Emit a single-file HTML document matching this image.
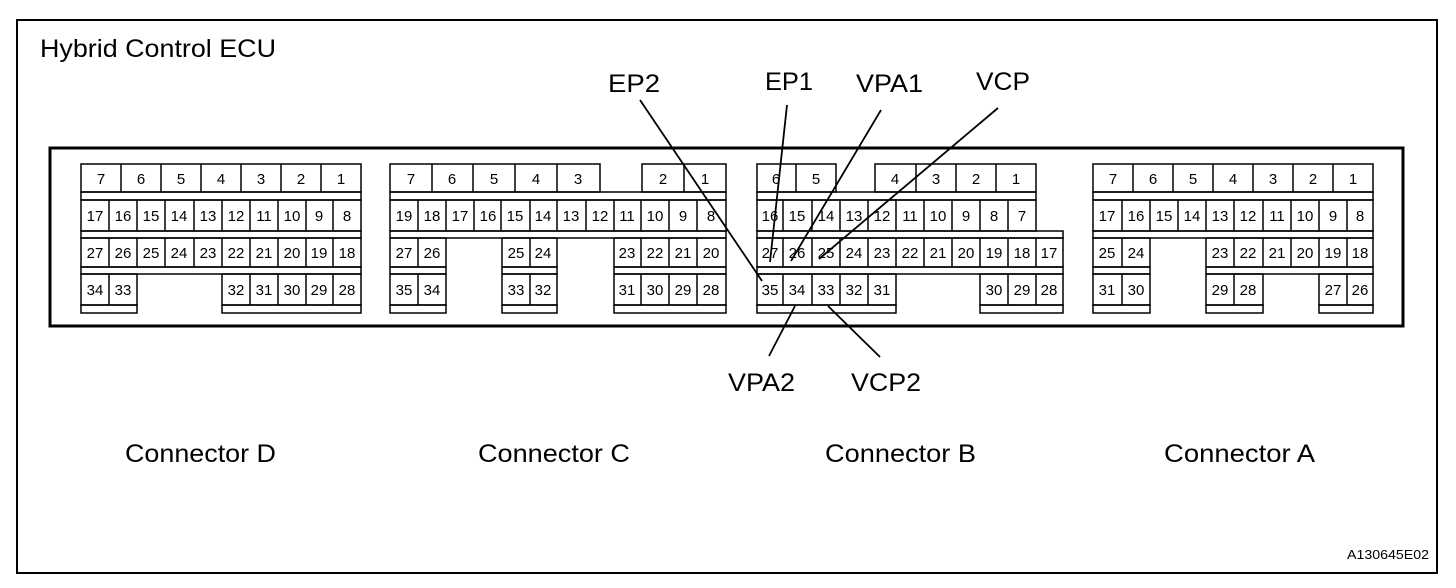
<!DOCTYPE html>
<html><head><meta charset="utf-8"><style>
html,body{margin:0;padding:0;background:#fff;}
svg{display:block;}
text{font-family:"Liberation Sans",Arial,sans-serif;fill:#000;}
.c{font-size:15px;text-anchor:middle;}
.L{font-size:25px;}
</style></head><body>
<svg width="1456" height="588" viewBox="0 0 1456 588" xmlns="http://www.w3.org/2000/svg">
<rect x="17" y="20" width="1420" height="553" fill="none" stroke="#000" stroke-width="2"/>
<text x="40" y="57" class="L" textLength="236" lengthAdjust="spacingAndGlyphs">Hybrid Control ECU</text>
<rect x="50" y="148" width="1353" height="178" fill="none" stroke="#000" stroke-width="3"/>
<g fill="none" stroke="#000" stroke-width="1.5">
<!-- D -->
<rect x="81" y="164" width="280" height="28"/>
<path d="M121 164V192M161 164V192M201 164V192M241 164V192M281 164V192M321 164V192"/>
<rect x="81" y="192" width="280" height="8"/>
<rect x="81" y="200" width="280" height="31"/>
<path d="M109 200V231M137 200V231M165 200V231M194 200V231M222 200V231M250 200V231M278 200V231M306 200V231M333 200V231"/>
<rect x="81" y="231" width="280" height="7"/>
<rect x="81" y="238" width="280" height="29"/>
<path d="M109 238V267M137 238V267M165 238V267M194 238V267M222 238V267M250 238V267M278 238V267M306 238V267M333 238V267"/>
<rect x="81" y="267" width="280" height="7"/>
<rect x="81" y="274" width="56" height="31"/><path d="M109 274V305"/>
<rect x="222" y="274" width="139" height="31"/><path d="M250 274V305M278 274V305M306 274V305M333 274V305"/>
<rect x="81" y="305" width="56" height="8"/><rect x="222" y="305" width="139" height="8"/>
<!-- C -->
<rect x="390" y="164" width="210" height="28"/>
<path d="M432 164V192M473 164V192M515 164V192M557 164V192"/>
<rect x="642" y="164" width="84" height="28"/><path d="M684 164V192"/>
<rect x="390" y="192" width="336" height="8"/>
<rect x="390" y="200" width="336" height="31"/>
<path d="M418 200V231M446 200V231M474 200V231M501 200V231M530 200V231M557 200V231M586 200V231M614 200V231M641 200V231M669 200V231M697 200V231"/>
<rect x="390" y="231" width="336" height="7"/>
<rect x="390" y="238" width="56" height="29"/><path d="M418 238V267"/>
<rect x="502" y="238" width="55" height="29"/><path d="M530 238V267"/>
<rect x="614" y="238" width="112" height="29"/><path d="M641 238V267M669 238V267M697 238V267"/>
<rect x="390" y="267" width="56" height="7"/><rect x="502" y="267" width="55" height="7"/><rect x="614" y="267" width="112" height="7"/>
<rect x="390" y="274" width="56" height="31"/><path d="M418 274V305"/>
<rect x="502" y="274" width="55" height="31"/><path d="M530 274V305"/>
<rect x="614" y="274" width="112" height="31"/><path d="M641 274V305M669 274V305M697 274V305"/>
<rect x="390" y="305" width="56" height="8"/><rect x="502" y="305" width="55" height="8"/><rect x="614" y="305" width="112" height="8"/>
<!-- B -->
<rect x="757" y="164" width="79" height="28"/><path d="M796 164V192"/>
<rect x="875" y="164" width="161" height="28"/><path d="M916 164V192M956 164V192M996 164V192"/>
<rect x="757" y="192" width="279" height="8"/>
<rect x="757" y="200" width="279" height="31"/>
<path d="M783 200V231M812 200V231M840 200V231M868 200V231M896 200V231M924 200V231M952 200V231M980 200V231M1008 200V231"/>
<rect x="757" y="231" width="306" height="7"/>
<rect x="757" y="238" width="306" height="29"/>
<path d="M783 238V267M812 238V267M840 238V267M868 238V267M896 238V267M924 238V267M952 238V267M980 238V267M1008 238V267M1036 238V267"/>
<rect x="757" y="267" width="306" height="7"/>
<rect x="757" y="274" width="139" height="31"/><path d="M783 274V305M812 274V305M840 274V305M868 274V305"/>
<rect x="980" y="274" width="83" height="31"/><path d="M1008 274V305M1036 274V305"/>
<rect x="757" y="305" width="139" height="8"/><rect x="980" y="305" width="83" height="8"/>
<!-- A -->
<rect x="1093" y="164" width="280" height="28"/>
<path d="M1133 164V192M1173 164V192M1213 164V192M1253 164V192M1293 164V192M1333 164V192"/>
<rect x="1093" y="192" width="280" height="8"/>
<rect x="1093" y="200" width="280" height="31"/>
<path d="M1122 200V231M1150 200V231M1178 200V231M1206 200V231M1234 200V231M1263 200V231M1291 200V231M1319 200V231M1347 200V231"/>
<rect x="1093" y="231" width="280" height="7"/>
<rect x="1093" y="238" width="57" height="29"/><path d="M1122 238V267"/>
<rect x="1206" y="238" width="167" height="29"/><path d="M1234 238V267M1263 238V267M1291 238V267M1319 238V267M1347 238V267"/>
<rect x="1093" y="267" width="57" height="7"/><rect x="1206" y="267" width="167" height="7"/>
<rect x="1093" y="274" width="57" height="31"/><path d="M1122 274V305"/>
<rect x="1206" y="274" width="57" height="31"/><path d="M1234 274V305"/>
<rect x="1319" y="274" width="54" height="31"/><path d="M1347 274V305"/>
<rect x="1093" y="305" width="57" height="8"/><rect x="1206" y="305" width="57" height="8"/><rect x="1319" y="305" width="54" height="8"/>
<!-- leaders -->
<path d="M640 100L762 281M787 105L770 262M881 110L791 261M998 108L819 259M795 306L769 356M828 306L880 357" stroke-width="1.8"/>
</g>
<g class="c">
<!-- D -->
<text x="101" y="184">7</text><text x="141" y="184">6</text><text x="181" y="184">5</text><text x="221" y="184">4</text><text x="261" y="184">3</text><text x="301" y="184">2</text><text x="341" y="184">1</text>
<text x="95" y="221">17</text><text x="123" y="221">16</text><text x="151" y="221">15</text><text x="179" y="221">14</text><text x="208" y="221">13</text><text x="236" y="221">12</text><text x="264" y="221">11</text><text x="292" y="221">10</text><text x="319" y="221">9</text><text x="347" y="221">8</text>
<text x="95" y="258">27</text><text x="123" y="258">26</text><text x="151" y="258">25</text><text x="179" y="258">24</text><text x="208" y="258">23</text><text x="236" y="258">22</text><text x="264" y="258">21</text><text x="292" y="258">20</text><text x="319" y="258">19</text><text x="347" y="258">18</text>
<text x="95" y="295">34</text><text x="123" y="295">33</text><text x="236" y="295">32</text><text x="264" y="295">31</text><text x="292" y="295">30</text><text x="319" y="295">29</text><text x="347" y="295">28</text>
<!-- C -->
<text x="411" y="184">7</text><text x="452" y="184">6</text><text x="494" y="184">5</text><text x="536" y="184">4</text><text x="578" y="184">3</text><text x="663" y="184">2</text><text x="705" y="184">1</text>
<text x="404" y="221">19</text><text x="432" y="221">18</text><text x="460" y="221">17</text><text x="488" y="221">16</text><text x="515" y="221">15</text><text x="543" y="221">14</text><text x="571" y="221">13</text><text x="600" y="221">12</text><text x="627" y="221">11</text><text x="655" y="221">10</text><text x="683" y="221">9</text><text x="711" y="221">8</text>
<text x="404" y="258">27</text><text x="432" y="258">26</text><text x="516" y="258">25</text><text x="543" y="258">24</text><text x="627" y="258">23</text><text x="655" y="258">22</text><text x="683" y="258">21</text><text x="711" y="258">20</text>
<text x="404" y="295">35</text><text x="432" y="295">34</text><text x="516" y="295">33</text><text x="543" y="295">32</text><text x="627" y="295">31</text><text x="655" y="295">30</text><text x="683" y="295">29</text><text x="711" y="295">28</text>
<!-- B -->
<text x="776" y="184">6</text><text x="816" y="184">5</text><text x="895" y="184">4</text><text x="936" y="184">3</text><text x="976" y="184">2</text><text x="1016" y="184">1</text>
<text x="770" y="221">16</text><text x="797" y="221">15</text><text x="826" y="221">14</text><text x="854" y="221">13</text><text x="882" y="221">12</text><text x="910" y="221">11</text><text x="938" y="221">10</text><text x="966" y="221">9</text><text x="994" y="221">8</text><text x="1022" y="221">7</text>
<text x="770" y="258">27</text><text x="797" y="258">26</text><text x="826" y="258">25</text><text x="854" y="258">24</text><text x="882" y="258">23</text><text x="910" y="258">22</text><text x="938" y="258">21</text><text x="966" y="258">20</text><text x="994" y="258">19</text><text x="1022" y="258">18</text><text x="1049" y="258">17</text>
<text x="770" y="295">35</text><text x="797" y="295">34</text><text x="826" y="295">33</text><text x="854" y="295">32</text><text x="882" y="295">31</text><text x="994" y="295">30</text><text x="1022" y="295">29</text><text x="1049" y="295">28</text>
<!-- A -->
<text x="1113" y="184">7</text><text x="1153" y="184">6</text><text x="1193" y="184">5</text><text x="1233" y="184">4</text><text x="1273" y="184">3</text><text x="1313" y="184">2</text><text x="1353" y="184">1</text>
<text x="1107" y="221">17</text><text x="1136" y="221">16</text><text x="1164" y="221">15</text><text x="1192" y="221">14</text><text x="1220" y="221">13</text><text x="1248" y="221">12</text><text x="1277" y="221">11</text><text x="1305" y="221">10</text><text x="1333" y="221">9</text><text x="1360" y="221">8</text>
<text x="1107" y="258">25</text><text x="1136" y="258">24</text><text x="1220" y="258">23</text><text x="1248" y="258">22</text><text x="1277" y="258">21</text><text x="1305" y="258">20</text><text x="1333" y="258">19</text><text x="1360" y="258">18</text>
<text x="1107" y="295">31</text><text x="1136" y="295">30</text><text x="1220" y="295">29</text><text x="1248" y="295">28</text><text x="1333" y="295">27</text><text x="1360" y="295">26</text>
</g>
<g class="L">
<text x="608" y="92" textLength="52" lengthAdjust="spacingAndGlyphs">EP2</text>
<text x="765" y="90" textLength="48" lengthAdjust="spacingAndGlyphs">EP1</text>
<text x="856" y="92" textLength="67" lengthAdjust="spacingAndGlyphs">VPA1</text>
<text x="976" y="90" textLength="54" lengthAdjust="spacingAndGlyphs">VCP</text>
<text x="728" y="391" textLength="67" lengthAdjust="spacingAndGlyphs">VPA2</text>
<text x="851" y="391" textLength="70" lengthAdjust="spacingAndGlyphs">VCP2</text>
<text x="125" y="462" textLength="151" lengthAdjust="spacingAndGlyphs">Connector D</text>
<text x="478" y="462" textLength="152" lengthAdjust="spacingAndGlyphs">Connector C</text>
<text x="825" y="462" textLength="151" lengthAdjust="spacingAndGlyphs">Connector B</text>
<text x="1164" y="462" textLength="151" lengthAdjust="spacingAndGlyphs">Connector A</text>
</g>
<text x="1347" y="559" style="font-size:13px" textLength="82" lengthAdjust="spacingAndGlyphs">A130645E02</text>
</svg>
</body></html>
